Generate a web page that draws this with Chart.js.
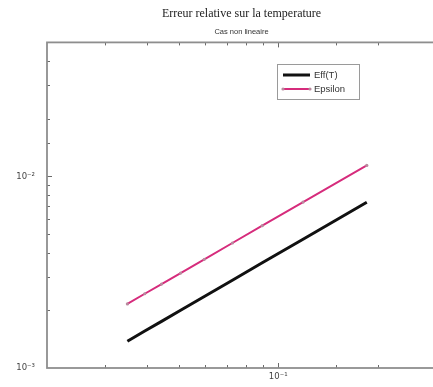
<!DOCTYPE html>
<html>
<head>
<meta charset="utf-8">
<script src="https://cdn.jsdelivr.net/npm/chart.js@4/dist/chart.umd.min.js"></script>
<style>
html,body{margin:0;padding:0;overflow:hidden;background:#fff;}
#wrap{width:440px;height:387px;}
</style>
</head>
<body>
<div id="wrap"><canvas id="c" width="440" height="387"></canvas></div>
<script>
// Data
const hValues = [0.0350, 0.0395, 0.0444, 0.0507, 0.0598, 0.0727, 0.0895, 0.1189, 0.1853];
const errT    = [0.00138, 0.00156, 0.00175, 0.00200, 0.00236, 0.00287, 0.00354, 0.00470, 0.00732];
const epsilon = [0.00216, 0.00244, 0.00274, 0.00313, 0.00369, 0.00449, 0.00553, 0.00734, 0.01141];
const seriesLabels = ['Eff(T)', 'Epsilon'];
const titleText = 'Erreur relative sur la temperature';
const subtitleText = 'Cas non lineaire';
const xRange = [0.02, 0.3];
const yRange = [0.001, 0.05];
const supers = {'-':'\u207B','0':'\u2070','1':'\u00B9','2':'\u00B2','3':'\u00B3','4':'\u2074','5':'\u2075','6':'\u2076','7':'\u2077','8':'\u2078','9':'\u2079'};

function isPow10(v){ const l = Math.log10(v); return Math.abs(l - Math.round(l)) < 1e-9; }
function powLabel(v){
  if(!isPow10(v)) return '';
  const e = String(Math.round(Math.log10(v)));
  return '10' + e.split('').map(c => supers[c]).join('');
}

const pink = '#d62c7c';

const boxPlugin = {
  id: 'boxPlugin',
  afterDraw(chart){
    const {ctx, chartArea: a, scales: {x, y}} = chart;
    ctx.save();
    // tick marks (inward)
    ctx.strokeStyle = '#6a6a6a';
    ctx.lineWidth = 1;
    x.ticks.forEach(t => {
      if (t.value <= x.min || t.value >= x.max) return;
      const px = Math.round(x.getPixelForValue(t.value)) + 0.5;
      const len = isPow10(t.value) ? 5 : 3;
      ctx.beginPath();
      ctx.moveTo(px, a.bottom); ctx.lineTo(px, a.bottom - len);
      ctx.moveTo(px, a.top); ctx.lineTo(px, a.top + len);
      ctx.stroke();
    });
    y.ticks.forEach(t => {
      if (t.value <= y.min || t.value >= y.max) return;
      const py = Math.round(y.getPixelForValue(t.value)) + 0.5;
      const len = isPow10(t.value) ? 5 : 3;
      ctx.beginPath();
      ctx.moveTo(a.left, py); ctx.lineTo(a.left + len, py);
      ctx.stroke();
    });
    // frame
    ctx.strokeStyle = '#8e8e8e';
    ctx.lineWidth = 1.8;
    ctx.strokeRect(a.left, a.top, a.right - a.left, a.bottom - a.top);
    // legend
    const lx = 277.5, ly = 64.5, lw = 82, lh = 35;
    ctx.fillStyle = '#fff';
    ctx.fillRect(lx, ly, lw, lh);
    ctx.strokeStyle = '#9a9a9a';
    ctx.lineWidth = 1;
    ctx.strokeRect(lx, ly, lw, lh);
    const ds = chart.data.datasets;
    const rows = [75, 89];
    ds.forEach((d, i) => {
      const yy = rows[i];
      ctx.strokeStyle = d.borderColor;
      ctx.lineWidth = d.borderWidth;
      ctx.beginPath(); ctx.moveTo(283, yy); ctx.lineTo(310, yy); ctx.stroke();
      if (d.pointRadius > 0) {
        ctx.fillStyle = d.pointBackgroundColor;
        [283, 310].forEach(px => { ctx.beginPath(); ctx.arc(px, yy, d.pointRadius, 0, Math.PI * 2); ctx.fill(); });
      }
      ctx.fillStyle = '#333';
      ctx.font = '9.5px "Liberation Sans", Arial, sans-serif';
      ctx.textBaseline = 'middle';
      ctx.textAlign = 'left';
      ctx.fillText(d.label, 314, yy + 0.5);
    });
    ctx.restore();
  }
};

new Chart(document.getElementById('c'), {
  type: 'scatter',
  data: {
    datasets: [
      {
        label: seriesLabels[0],
        data: hValues.map((h, i) => ({x: h, y: errT[i]})),
        showLine: true,
        borderColor: '#111',
        borderWidth: 3,
        pointRadius: 0,
        pointBackgroundColor: '#111'
      },
      {
        label: seriesLabels[1],
        data: hValues.map((h, i) => ({x: h, y: epsilon[i]})),
        showLine: true,
        borderColor: pink,
        borderWidth: 2,
        pointRadius: 1.6,
        pointBorderWidth: 0,
        pointBackgroundColor: '#b98a9e'
      }
    ]
  },
  options: {
    responsive: false,
    animation: false,
    layout: {padding: {left: 0, right: 2, top: 0, bottom: 0}},
    plugins: {
      legend: {display: false},
      tooltip: {enabled: false},
      title: {
        display: true,
        text: titleText,
        fullSize: false,
        color: '#222',
        font: {family: '"Liberation Serif", "DejaVu Serif", serif', size: 12, weight: 'normal', lineHeight: 1.2},
        padding: {top: 7, bottom: 6}
      },
      subtitle: {
        display: true,
        text: subtitleText,
        fullSize: false,
        color: '#333',
        font: {family: '"Liberation Sans", Arial, sans-serif', size: 7.5, weight: 'normal', lineHeight: 1.2},
        padding: {top: 0, bottom: 6}
      }
    },
    scales: {
      x: {
        type: 'logarithmic',
        min: xRange[0],
        max: xRange[1],
        grid: {display: false, drawTicks: false},
        border: {display: false},
        afterFit: s => { s.height = 19; },
        ticks: {
          autoSkip: false,
          maxRotation: 0,
          padding: 4,
          color: '#444',
          font: {family: '"DejaVu Sans", sans-serif', size: 8.5},
          callback: v => powLabel(v)
        }
      },
      y: {
        type: 'logarithmic',
        min: yRange[0],
        max: yRange[1],
        grid: {display: false, drawTicks: false},
        border: {display: false},
        afterFit: s => { s.width = 47; },
        ticks: {
          autoSkip: false,
          padding: 12,
          color: '#444',
          font: {family: '"DejaVu Sans", sans-serif', size: 8.5},
          callback: v => powLabel(v)
        }
      }
    }
  },
  plugins: [boxPlugin]
});
</script>
</body>
</html>
